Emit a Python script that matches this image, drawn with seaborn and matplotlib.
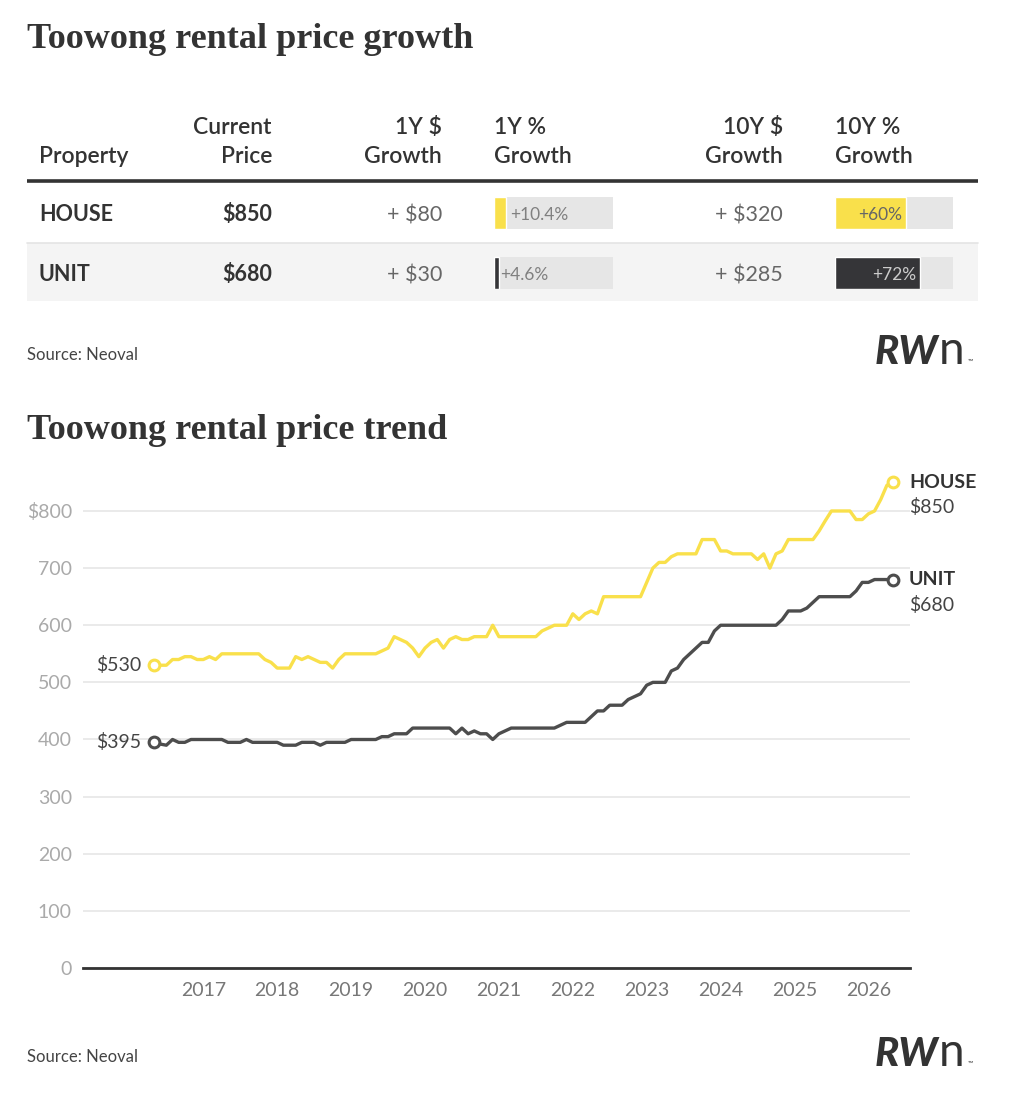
import numpy as np
import pandas as pd
import matplotlib
matplotlib.use('Agg')
import matplotlib.pyplot as plt
import seaborn as sns
from matplotlib.patches import Rectangle

# table data
properties = ['HOUSE', 'UNIT']
current_price = ['$850', '$680']
growth_1y_dollar = ['+ $80', '+ $30']
growth_1y_pct = [10.4, 4.6]
growth_10y_dollar = ['+ $320', '+ $285']
growth_10y_pct = [60, 72]

# monthly rents, May 2016 - May 2026
months = pd.date_range('2016-05-01', periods=121, freq='MS')
house_rent = [530, 530, 530, 540, 540, 545, 545, 540, 540, 545,
              540, 550, 550, 550, 550, 550, 550, 550, 540, 535,
              525, 525, 525, 545, 540, 545, 540, 535, 535, 525,
              540, 550, 550, 550, 550, 550, 550, 555, 560, 580,
              575, 570, 560, 545, 560, 570, 575, 560, 575, 580,
              575, 575, 580, 580, 580, 600, 580, 580, 580, 580,
              580, 580, 580, 590, 595, 600, 600, 600, 620, 610,
              620, 625, 620, 650, 650, 650, 650, 650, 650, 650,
              675, 700, 710, 710, 720, 725, 725, 725, 725, 750,
              750, 750, 730, 730, 725, 725, 725, 725, 715, 725,
              700, 725, 730, 750, 750, 750, 750, 750, 765, 783,
              800, 800, 800, 800, 785, 785, 795, 800, 820, 845,
              850]
unit_rent = [395, 392, 390, 400, 395, 395, 400, 400, 400, 400,
             400, 400, 395, 395, 395, 400, 395, 395, 395, 395,
             395, 390, 390, 390, 395, 395, 395, 390, 395, 395,
             395, 395, 400, 400, 400, 400, 400, 405, 405, 410,
             410, 410, 420, 420, 420, 420, 420, 420, 420, 410,
             420, 410, 415, 410, 410, 400, 410, 415, 420, 420,
             420, 420, 420, 420, 420, 420, 425, 430, 430, 430,
             430, 440, 450, 450, 460, 460, 460, 470, 475, 480,
             495, 500, 500, 500, 520, 525, 540, 550, 560, 570,
             570, 590, 600, 600, 600, 600, 600, 600, 600, 600,
             600, 600, 610, 625, 625, 625, 630, 640, 650, 650,
             650, 650, 650, 650, 660, 675, 675, 680, 680, 680,
             680]
year_ticks = [2017, 2018, 2019, 2020, 2021, 2022, 2023, 2024, 2025, 2026]
y_ticks = [0, 100, 200, 300, 400, 500, 600, 700, 800]
y_tick_labels = ['0', '100', '200', '300', '400', '500', '600', '700', '$800']

YELLOW = '#F9E04B'
DARK = '#353538'
LINE_DARK = '#4d4d4d'
TXT = '#333333'

W, H = 1012, 1096
sns.set_theme(style='white')
plt.rcParams['font.family'] = ['Lato', 'DejaVu Sans']

fig = plt.figure(figsize=(W / 100, H / 100), dpi=100)
fig.patch.set_facecolor('white')


def px_axes(x0, y0, x1, y1):
    return fig.add_axes([x0 / W, 1 - y1 / H, (x1 - x0) / W, (y1 - y0) / H])


# background canvas in pixel coords
bg = fig.add_axes([0, 0, 1, 1])
bg.set_xlim(0, W)
bg.set_ylim(H, 0)
bg.axis('off')

serif = 'Liberation Serif'


def logo(y):
    bg.text(875, y, 'RW', fontsize=29, fontweight='black', style='italic',
            color=TXT, va='baseline', ha='left')
    bg.text(939, y, 'n', fontsize=33, fontweight='normal', color=TXT,
            va='baseline', ha='left')
    bg.text(968, y, '™', fontsize=5, color=TXT, va='baseline', ha='left')


# ---------------- table ----------------
bg.text(27, 48, 'Toowong rental price growth', family=serif, fontsize=26,
        fontweight='bold', color=TXT, va='baseline')

hdr = dict(fontsize=16.5, color=TXT, va='baseline', fontweight='semibold')
bg.text(39, 163, 'Property', ha='left', **hdr)
bg.text(272, 134, 'Current', ha='right', **hdr)
bg.text(272, 163, 'Price', ha='right', **hdr)
bg.text(442, 134, '1Y $', ha='right', **hdr)
bg.text(442, 163, 'Growth', ha='right', **hdr)
bg.text(494, 134, '1Y %', ha='left', **hdr)
bg.text(494, 163, 'Growth', ha='left', **hdr)
bg.text(783, 134, '10Y $', ha='right', **hdr)
bg.text(783, 163, 'Growth', ha='right', **hdr)
bg.text(835, 134, '10Y %', ha='left', **hdr)
bg.text(835, 163, 'Growth', ha='left', **hdr)

bg.plot([27, 978], [181, 181], color=TXT, lw=2.6, solid_capstyle='butt')
bg.add_patch(Rectangle((27, 243), 951, 58, color='#f4f4f4', lw=0))
bg.plot([27, 978], [242.5, 242.5], color='#e4e4e4', lw=1.2)

row_y = [221, 281]
for i, name in enumerate(properties):
    y = row_y[i]
    bg.text(39, y, name, fontsize=15.5, fontweight='bold', color=TXT, va='baseline')
    bg.text(272, y, current_price[i], fontsize=15.5, fontweight='bold', color=TXT,
            va='baseline', ha='right')
    bg.text(442, y, growth_1y_dollar[i], fontsize=15.5, color='#666666',
            va='baseline', ha='right')
    bg.text(783, y, growth_10y_dollar[i], fontsize=15.5, color='#666666',
            va='baseline', ha='right')

bar_colors = [YELLOW, DARK]
for col_x0, col_x1, vals, inside in [(494, 613, growth_1y_pct, False),
                                     (835, 953, growth_10y_pct, True)]:
    bax = px_axes(col_x0, 197, col_x1, 289)
    bax.barh([0, 1], [100, 100], height=0.533, color='#e6e6e6', lw=0)
    sns.barplot(x=vals, y=properties, hue=properties, palette=bar_colors,
                orient='h', width=0.533, legend=False, ax=bax, saturation=1)
    bax.set_xlim(0, 100)
    bax.set_ylim(1.2667, -0.2667)
    bax.axis('off')
    bax.patch.set_alpha(0)
    for i, v in enumerate(vals):
        if inside:
            bax.annotate(f'+{v:g}%', (v, i), xytext=(-4, -2), textcoords='offset pixels',
                         ha='right', va='center', fontsize=12.5,
                         color='#666666' if i == 0 else '#cccccc')
        else:
            bax.annotate(f'+{v:g}%', (v, i), xytext=(4 if i == 0 else 1, -2),
                         textcoords='offset pixels', ha='left', va='center',
                         fontsize=12.5, color='#808080')

bg.text(27, 360, 'Source: Neoval', fontsize=12, color='#444444', va='baseline')
logo(364)

# ---------------- trend chart ----------------
bg.text(27, 439, 'Toowong rental price trend', family=serif, fontsize=26,
        fontweight='bold', color=TXT, va='baseline')

dec_year = months.year + (months.month - 1) / 12
df = pd.DataFrame({
    'year': np.concatenate([dec_year, dec_year]),
    'rent': house_rent + unit_rent,
    'type': ['HOUSE'] * len(house_rent) + ['UNIT'] * len(unit_rent),
})

ax = px_axes(83, 471, 910, 968)
sns.lineplot(data=df, x='year', y='rent', hue='type',
             palette={'HOUSE': YELLOW, 'UNIT': LINE_DARK}, linewidth=2.4,
             legend=False, ax=ax)
ax.set_xlim(2015.372, 2026.563)
ax.set_ylim(0, 870)
ax.set_yticks(y_ticks)
ax.set_yticklabels(y_tick_labels)
ax.set_xticks(year_ticks)
ax.set_xticklabels([str(y) for y in year_ticks])
ax.set_xlabel('')
ax.set_ylabel('')
ax.grid(axis='y', color='#e6e6e6', lw=1.2)
ax.grid(axis='x', visible=False)
for s in ['top', 'right', 'left']:
    ax.spines[s].set_visible(False)
ax.spines['bottom'].set_color(TXT)
ax.spines['bottom'].set_linewidth(2)
ax.tick_params(axis='y', length=0, pad=8, labelsize=14, labelcolor='#aaaaaa')
ax.tick_params(axis='x', length=0, pad=10, labelsize=14, labelcolor='#777777')
ax.patch.set_alpha(0)

for series, color, name in [(house_rent, YELLOW, 'HOUSE'), (unit_rent, LINE_DARK, 'UNIT')]:
    x0, x1 = dec_year[0], dec_year[-1]
    ax.scatter([x0, x1], [series[0], series[-1]], s=60, facecolor='white',
               edgecolor=color, linewidth=2.2, zorder=5, clip_on=False)
    ax.annotate(f'${series[0]}', (x0, series[0]), xytext=(-13, 0),
                textcoords='offset pixels', ha='right', va='center',
                fontsize=14, color='#444444')
    ax.annotate(name, (x1, series[-1]), xytext=(16, 0), textcoords='offset pixels',
                ha='left', va='center', fontsize=14, fontweight='bold', color=TXT,
                annotation_clip=False)
    ax.annotate(f'${series[-1]}', (x1, series[-1]), xytext=(16, -25),
                textcoords='offset pixels', ha='left', va='center',
                fontsize=14, color='#444444', annotation_clip=False)

bg.text(27, 1062, 'Source: Neoval', fontsize=12, color='#444444', va='baseline')
logo(1066)

fig.savefig('out.png', dpi=100, facecolor='white')
